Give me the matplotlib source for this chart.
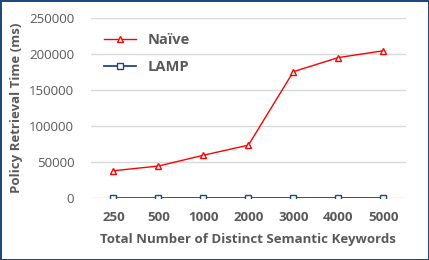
import matplotlib
matplotlib.use("Agg")
import matplotlib.pyplot as plt
import numpy as np

# Policy retrieval time vs. number of keywords
keywords = ["250", "500", "1000", "2000", "3000", "4000", "5000"]
naive = [38000, 44500, 59500, 73500, 175500, 195000, 204500]
lamp = [150, 160, 170, 180, 190, 200, 210]

plt.rcParams["font.family"] = ["Open Sans", "DejaVu Sans"]

fig = plt.figure(figsize=(4.29, 2.6), dpi=100)
fig.patch.set_edgecolor("#1F497D")
fig.patch.set_linewidth(1.8)
ax = fig.add_axes([0.212, 0.238, 0.734, 0.693])

x = np.arange(len(keywords))
ax.plot(x, naive, color="#FF0000", lw=1, marker="^", ms=5, mfc="white",
        mec="#FF0000", label="Naïve")
ax.plot(x, lamp, color="#1F497D", lw=1.3, marker="s", ms=5, mfc="white",
        mec="#1F497D", label="LAMP")

ax.set_xlim(-0.5, len(keywords) - 0.5)
ax.set_ylim(0, 250000)
ax.set_yticks(np.arange(0, 250001, 50000))
ax.set_xticks(x)
ax.set_xticklabels(keywords, fontweight="bold")
ax.grid(axis="y", color="#D9D9D9", lw=1)
ax.set_axisbelow(True)
for s in ax.spines.values():
    s.set_visible(False)
ax.tick_params(length=0, labelsize=9.5, colors="#595959")
ax.tick_params(axis="y", pad=12)
ax.tick_params(axis="x", pad=9)

ax.set_xlabel("Total Number of Distinct Semantic Keywords", fontsize=9.5,
              fontweight="bold", color="#595959", labelpad=7)
ax.set_ylabel("Policy Retrieval Time (ms)", fontsize=9.5, fontweight="bold",
              color="#595959", labelpad=4)

leg = ax.legend(loc="upper left", bbox_to_anchor=(0.0, 0.99), frameon=False,
                prop={"weight": "bold", "size": 10.5}, labelspacing=0.9,
                handlelength=2.2)
for t in leg.get_texts():
    t.set_color("#595959")

fig.savefig("out.png", dpi=100, edgecolor=fig.get_edgecolor())
